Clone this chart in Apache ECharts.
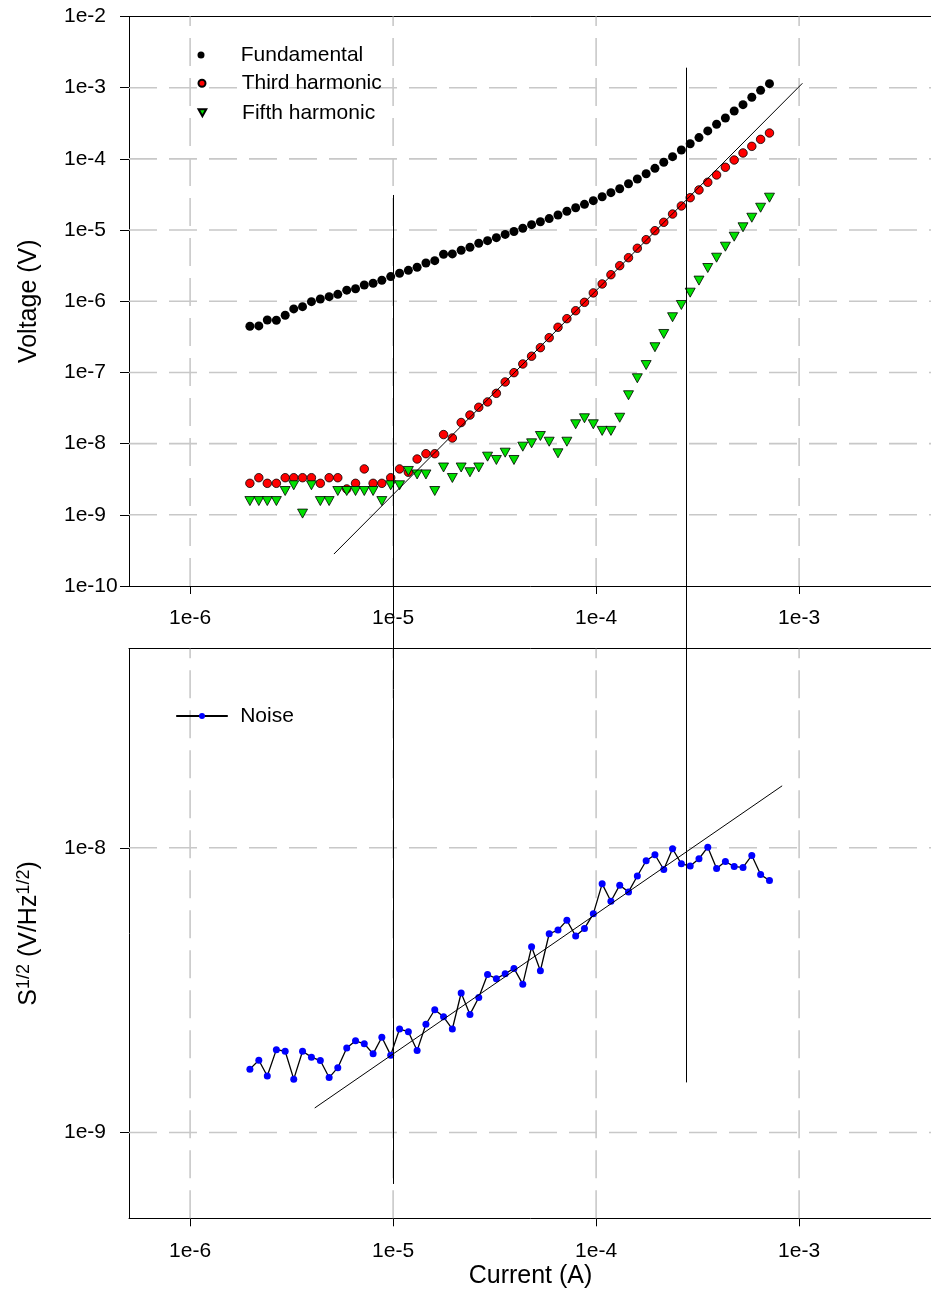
<!DOCTYPE html>
<html>
<head>
<meta charset="utf-8">
<script src="https://cdn.jsdelivr.net/npm/echarts@6/dist/echarts.min.js"></script>
<style>
  html, body { margin: 0; padding: 0; background: #ffffff; }
  #chart { width: 931px; height: 1315px; }
</style>
</head>
<body>
<div id="chart"></div>
<script>
// Drive current (A), one value per measurement step
const currents = [
  1.97e-6, 2.18e-6, 2.40e-6, 2.66e-6, 2.94e-6, 3.24e-6, 3.58e-6, 3.96e-6, 4.38e-6, 4.84e-6,
  5.34e-6, 5.91e-6, 6.53e-6, 7.21e-6, 7.97e-6, 8.80e-6, 9.73e-6, 1.076e-5, 1.189e-5, 1.313e-5,
  1.451e-5, 1.604e-5, 1.772e-5, 1.958e-5, 2.164e-5, 2.391e-5, 2.642e-5, 2.919e-5, 3.226e-5, 3.565e-5,
  3.939e-5, 4.353e-5, 4.810e-5, 5.315e-5, 5.873e-5, 6.490e-5, 7.178e-5, 7.931e-5, 8.764e-5, 9.687e-5,
  1.071e-4, 1.183e-4, 1.307e-4, 1.444e-4, 1.596e-4, 1.764e-4, 1.949e-4, 2.154e-4, 2.380e-4, 2.630e-4,
  2.907e-4, 3.212e-4, 3.549e-4, 3.922e-4, 4.334e-4, 4.789e-4, 5.292e-4, 5.848e-4, 6.462e-4, 7.145e-4
];

// Voltage (V) at the fundamental, third and fifth harmonic
const fundamental = [
  4.45e-7, 4.50e-7, 5.46e-7, 5.41e-7, 6.36e-7, 7.80e-7, 8.40e-7, 9.87e-7, 1.077e-6, 1.16e-6,
  1.25e-6, 1.43e-6, 1.50e-6, 1.69e-6, 1.79e-6, 1.97e-6, 2.22e-6, 2.47e-6, 2.72e-6, 3.00e-6,
  3.45e-6, 3.72e-6, 4.57e-6, 4.62e-6, 5.20e-6, 5.74e-6, 6.53e-6, 7.10e-6, 7.82e-6, 8.68e-6,
  9.53e-6, 1.059e-5, 1.19e-5, 1.31e-5, 1.45e-5, 1.63e-5, 1.84e-5, 2.06e-5, 2.30e-5, 2.59e-5,
  2.94e-5, 3.35e-5, 3.81e-5, 4.48e-5, 5.21e-5, 6.19e-5, 7.37e-5, 8.95e-5, 1.074e-4, 1.334e-4,
  1.633e-4, 1.99e-4, 2.47e-4, 3.06e-4, 3.75e-4, 4.71e-4, 5.77e-4, 7.33e-4, 9.18e-4, 1.14e-3
];
const thirdHarmonic = [
  2.77e-9, 3.32e-9, 2.77e-9, 2.77e-9, 3.32e-9, 3.32e-9, 3.32e-9, 3.32e-9, 2.77e-9, 3.32e-9,
  3.32e-9, 2.31e-9, 2.77e-9, 4.41e-9, 2.77e-9, 2.77e-9, 3.32e-9, 4.41e-9, 3.96e-9, 6.08e-9,
  7.22e-9, 7.22e-9, 1.34e-8, 1.20e-8, 1.98e-8, 2.52e-8, 3.24e-8, 3.85e-8, 5.09e-8, 7.35e-8,
  9.93e-8, 1.315e-7, 1.69e-7, 2.23e-7, 3.08e-7, 4.31e-7, 5.69e-7, 7.36e-7, 9.66e-7, 1.31e-6,
  1.75e-6, 2.36e-6, 3.16e-6, 4.09e-6, 5.55e-6, 7.33e-6, 9.80e-6, 1.285e-5, 1.68e-5, 2.18e-5,
  2.85e-5, 3.66e-5, 4.69e-5, 5.94e-5, 7.62e-5, 9.64e-5, 1.21e-4, 1.50e-4, 1.88e-4, 2.31e-4
];
const fifthHarmonic = [
  1.56e-9, 1.56e-9, 1.56e-9, 1.56e-9, 2.16e-9, 2.60e-9, 1.04e-9, 2.60e-9, 1.56e-9, 1.56e-9,
  2.16e-9, 2.16e-9, 2.16e-9, 2.16e-9, 2.16e-9, 1.56e-9, 2.60e-9, 2.60e-9, 4.13e-9, 3.69e-9,
  3.69e-9, 2.16e-9, 4.62e-9, 3.29e-9, 4.62e-9, 3.96e-9, 4.62e-9, 6.56e-9, 5.89e-9, 7.46e-9,
  5.89e-9, 9.06e-9, 1.01e-8, 1.28e-8, 1.064e-8, 7.31e-9, 1.064e-8, 1.87e-8, 2.27e-8, 1.87e-8,
  1.51e-8, 1.51e-8, 2.31e-8, 4.78e-8, 8.28e-8, 1.27e-7, 2.26e-7, 3.47e-7, 5.96e-7, 8.86e-7,
  1.32e-6, 1.95e-6, 2.93e-6, 4.09e-6, 5.84e-6, 8.07e-6, 1.094e-5, 1.49e-5, 2.06e-5, 2.85e-5
];

// Noise spectral density S^1/2 (V/Hz^1/2)
const noise = [
  1.67e-9, 1.795e-9, 1.58e-9, 1.955e-9, 1.93e-9, 1.54e-9, 1.93e-9, 1.84e-9, 1.79e-9, 1.56e-9,
  1.69e-9, 1.98e-9, 2.10e-9, 2.05e-9, 1.89e-9, 2.16e-9, 1.87e-9, 2.31e-9, 2.26e-9, 1.94e-9,
  2.40e-9, 2.70e-9, 2.55e-9, 2.31e-9, 3.09e-9, 2.60e-9, 2.98e-9, 3.59e-9, 3.47e-9, 3.61e-9,
  3.77e-9, 3.32e-9, 4.49e-9, 3.70e-9, 4.99e-9, 5.14e-9, 5.56e-9, 4.90e-9, 5.21e-9, 5.86e-9,
  7.47e-9, 6.49e-9, 7.39e-9, 7.00e-9, 7.96e-9, 9.00e-9, 9.45e-9, 8.39e-9, 9.92e-9, 8.78e-9,
  8.63e-9, 9.15e-9, 1.005e-8, 8.45e-9, 8.95e-9, 8.59e-9, 8.53e-9, 9.40e-9, 8.05e-9, 7.67e-9
];

// Fitted trend lines: [current, value] end points
const thirdFit = [[5.11e-6, 2.81e-10], [1.038e-3, 1.153e-3]];
const noiseFit = [[4.11e-6, 1.22e-9], [8.25e-4, 1.65e-8]];

// Vertical guide lines crossing both panels
const guideCurrents = [1e-5, 2.77e-4];
const guideVoltageTop = [3.11e-5, 1.91e-3];
const guideNoiseBottom = [6.6e-10, 1.5e-9];

// Axis ranges and ticks
const currentRange = [5e-7, 5e-3];
const voltageRange = [1e-10, 1e-2];
const noiseRange = [5e-10, 5e-8];
const currentTicks = [1e-6, 1e-5, 1e-4, 1e-3];
const voltageTicks = [1e-10, 1e-9, 1e-8, 1e-7, 1e-6, 1e-5, 1e-4, 1e-3, 1e-2];
const voltageGridLines = [1e-9, 1e-8, 1e-7, 1e-6, 1e-5, 1e-4, 1e-3];
const noiseTicks = [1e-9, 1e-8];

const FONT = '"Liberation Sans", Arial, Helvetica, sans-serif';
const GRID_COLOR = '#c8c8c8';

const pairs = (ys) => currents.map((x, i) => [x, ys[i]]);
const expLabel = (v) => '1e' + Math.round(Math.log10(v));

const labelStyle = { fontSize: 21, color: '#000', fontFamily: FONT };

function bottomXAxis(gridIndex, extra) {
  return Object.assign({
    gridIndex, type: 'log', min: currentRange[0], max: currentRange[1], position: 'bottom',
    axisLine: { show: true, onZero: false, lineStyle: { color: '#000', width: 1 } },
    axisTick: { show: true, inside: false, length: 8, customValues: currentTicks, lineStyle: { color: '#000', width: 1 } },
    axisLabel: Object.assign({ customValues: currentTicks, formatter: expLabel, margin: 22 }, labelStyle),
    splitLine: { show: false }, minorTick: { show: false }, minorSplitLine: { show: false }
  }, extra || {});
}
function topFrameAxis(gridIndex) {
  return {
    gridIndex, type: 'log', min: currentRange[0], max: currentRange[1], position: 'top',
    axisLine: { show: true, onZero: false, lineStyle: { color: '#000', width: 1 } },
    axisTick: { show: false }, axisLabel: { show: false }, splitLine: { show: false }
  };
}
function leftYAxis(gridIndex, range, ticks, extra) {
  return Object.assign({
    gridIndex, type: 'log', min: range[0], max: range[1], position: 'left',
    axisLine: { show: true, onZero: false, lineStyle: { color: '#000', width: 1 } },
    axisTick: { show: true, inside: false, length: 9, customValues: ticks, lineStyle: { color: '#000', width: 1 } },
    axisLabel: Object.assign({ customValues: ticks, formatter: expLabel, margin: 65, align: 'left' }, labelStyle),
    splitLine: { show: false }, minorTick: { show: false }, minorSplitLine: { show: false },
    nameLocation: 'middle', nameRotate: 90, nameGap: 87
  }, extra || {});
}

// Dashed reference lines, one short line series per decade
function gridLineSeries(axisIndex, yRange, xs, ys) {
  const style = { color: GRID_COLOR, width: 1.6, type: [28, 12] };
  const make = (data) => ({
    type: 'line', xAxisIndex: axisIndex, yAxisIndex: axisIndex, z: 1,
    symbol: 'none', showSymbol: false, silent: true, animation: false,
    lineStyle: style, emphasis: { disabled: true }, data
  });
  return xs.map(v => make([[v, yRange[0]], [v, yRange[1]]]))
    .concat(ys.map(v => make([[currentRange[0], v], [currentRange[1], v]])));
}

const legendBase = {
  orient: 'vertical', padding: 0, selectedMode: false,
  textStyle: { fontSize: 21, color: '#000', fontFamily: FONT }
};

const chart = echarts.init(document.getElementById('chart'), null, { renderer: 'canvas' });

chart.setOption({
  animation: false,
  backgroundColor: '#ffffff',
  grid: [
    { left: 129, top: 16.5, width: 812, height: 569.5, outerBoundsMode: 'none', containLabel: false },
    { left: 129, top: 648.7, width: 812, height: 569.6, outerBoundsMode: 'none', containLabel: false }
  ],
  xAxis: [
    bottomXAxis(0),
    bottomXAxis(1, {
      name: 'Current (A)', nameLocation: 'middle', nameGap: 45,
      nameTextStyle: { fontSize: 25, color: '#000', fontFamily: FONT, padding: [0, 9, 0, 0] }
    }),
    topFrameAxis(0),
    topFrameAxis(1)
  ],
  yAxis: [
    leftYAxis(0, voltageRange, voltageTicks, {
      name: 'Voltage (V)',
      nameTextStyle: { fontSize: 25, color: '#000', fontFamily: FONT }
    }),
    leftYAxis(1, noiseRange, noiseTicks, {
      name: '{n|S}{s|1/2}{n| (V/Hz}{s|1/2}{n|)}',
      nameTextStyle: {
        color: '#000', fontFamily: FONT,
        rich: {
          n: { fontSize: 25, fontFamily: FONT, color: '#000', lineHeight: 27, verticalAlign: 'bottom' },
          s: { fontSize: 18, fontFamily: FONT, color: '#000', lineHeight: 18, verticalAlign: 'top' }
        }
      }
    })
  ],
  legend: [
    Object.assign({ data: ['Fundamental'], left: 197.5, top: 44.5, itemWidth: 69.4, itemHeight: 7 }, legendBase),
    Object.assign({ data: ['Third harmonic'], left: 197.5, top: 72.8, itemWidth: 69.4, itemHeight: 7 }, legendBase),
    Object.assign({ data: ['Fifth harmonic'], left: 197.5, top: 102.3, itemWidth: 69.4, itemHeight: 7 }, legendBase),
    Object.assign({}, legendBase, {
      data: ['Noise'], left: 175.2, top: 705.5, itemWidth: 51.6, itemHeight: 7.5,
      textStyle: { fontSize: 21, color: '#000', fontFamily: FONT, padding: [0, 0, 0, 7.4] }
    })
  ],
  series: gridLineSeries(0, voltageRange, currentTicks, voltageGridLines)
    .concat(gridLineSeries(1, noiseRange, currentTicks, noiseTicks))
    .concat([
      {
        name: 'Fundamental', type: 'scatter', xAxisIndex: 0, yAxisIndex: 0, z: 10,
        symbol: 'circle', symbolSize: 9,
        itemStyle: { color: '#000000', opacity: 1 },
        data: pairs(fundamental)
      },
      {
        name: 'Third harmonic', type: 'scatter', xAxisIndex: 0, yAxisIndex: 0, z: 11,
        symbol: 'circle', symbolSize: 8.5,
        itemStyle: { color: '#ff0000', borderColor: '#000', borderWidth: 0.8, opacity: 1 },
        data: pairs(thirdHarmonic)
      },
      {
        name: 'Fifth harmonic', type: 'scatter', xAxisIndex: 0, yAxisIndex: 0, z: 12,
        symbol: 'path://M0,0L10,0L5,9Z', symbolSize: [10, 9],
        itemStyle: { color: '#00e000', borderColor: '#000', borderWidth: 0.8, opacity: 1 },
        data: pairs(fifthHarmonic)
      },
      {
        name: 'Third harmonic fit', type: 'line', xAxisIndex: 0, yAxisIndex: 0, z: 13,
        showSymbol: false, symbol: 'none', silent: true,
        lineStyle: { color: '#000', width: 1 },
        data: thirdFit
      },
      {
        name: 'Noise', type: 'line', xAxisIndex: 1, yAxisIndex: 1, z: 10,
        symbol: 'circle', symbolSize: 7, showSymbol: true,
        itemStyle: { color: '#0000ff', opacity: 1 },
        lineStyle: { color: '#000', width: 1.3 },
        data: pairs(noise)
      },
      {
        name: 'Noise fit', type: 'line', xAxisIndex: 1, yAxisIndex: 1, z: 13,
        showSymbol: false, symbol: 'none', silent: true,
        lineStyle: { color: '#000', width: 1 },
        data: noiseFit
      }
    ])
});

// Guide lines run from the voltage panel down into the noise panel
const guideLines = guideCurrents.map((c, k) => {
  const top = chart.convertToPixel({ xAxisIndex: 0, yAxisIndex: 0 }, [c, guideVoltageTop[k]]);
  const bottom = chart.convertToPixel({ xAxisIndex: 1, yAxisIndex: 1 }, [c, guideNoiseBottom[k]]);
  const x = Math.round(top[0]) + 0.5;
  return {
    type: 'line', silent: true, z: 100,
    shape: { x1: x, y1: top[1], x2: x, y2: bottom[1] },
    style: { stroke: '#000', lineWidth: 1 }
  };
});
chart.setOption({ graphic: guideLines });
</script>
</body>
</html>
